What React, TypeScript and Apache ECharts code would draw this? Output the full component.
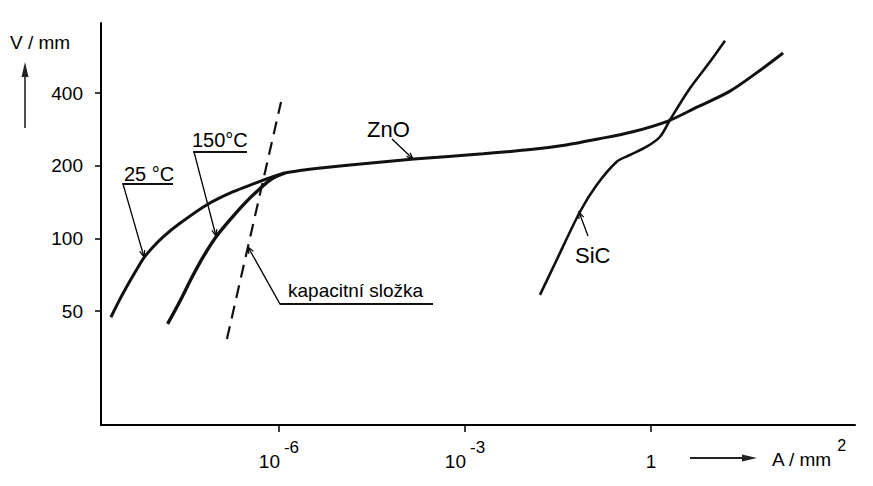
import React, { useEffect, useRef } from "react";
import * as echarts from "echarts";

// ---- data (A in A/mm², V in V/mm) ----
const zno25A = [1.95e-9, 2.65e-9, 3.63e-9, 4.94e-9, 6.72e-9, 9.4e-9, 1.36e-8, 2.53e-8, 6.8e-8, 1.83e-7, 4.36e-7, 8.0e-7, 1.25e-6, 2.18e-6, 3.95e-6, 1.4e-5, 1.5e-4, 1.95e-3, 0.0125, 0.0426, 0.14, 0.49, 1.88, 5.5, 18.8, 64, 135];
const zno25V = [47.1, 55.2, 64.1, 73.5, 83.5, 92.4, 101.6, 115.5, 137.6, 156.2, 170.2, 180.3, 186.7, 191.2, 194.9, 201.5, 213.4, 224.3, 234.1, 243.9, 258.3, 276.2, 306.7, 350, 408, 508, 587];
const zno150A = [1.6e-8, 2.53e-8, 3.96e-8, 6.17e-8, 9.9e-8, 1.83e-7, 3.01e-7, 4.94e-7, 7.6e-7, 1.25e-6];
const zno150V = [44.2, 54.9, 69.0, 84.8, 102.3, 123.8, 142.5, 160.7, 176.3, 186.7];
const sicA = [0.0162, 0.0301, 0.0716, 0.133, 0.28, 0.458, 0.853, 1.4, 2.02, 4.25, 8.95, 15.6];
const sicV = [58.3, 81.4, 129, 166.5, 208, 221.7, 240, 264, 309.7, 419, 540, 660];
const capA = [1.45e-7, 1.08e-6];
const capV = [38.3, 368];

const xTickExponents = [-6, -3, 0];
const yTickValues = [50, 100, 200, 400];
const xRange = [1.35e-9, 1950];
const yRange = [16.84, 782];

const FONT = '"Liberation Sans", Arial, Helvetica, sans-serif';

const lg = Math.log10;
const toPairs = (a: number[], v: number[]) => a.map((x, i) => [lg(x), lg(v[i])]);

function arrowHead(from: number[], to: number[], len = 7, spread = 0.38) {
  const ang = Math.atan2(to[1] - from[1], to[0] - from[0]);
  const p1 = [to[0] - len * Math.cos(ang - spread), to[1] - len * Math.sin(ang - spread)];
  const p2 = [to[0] - len * Math.cos(ang + spread), to[1] - len * Math.sin(ang + spread)];
  return {
    type: "polyline",
    shape: { points: [p1, to, p2] },
    style: { stroke: "#000", lineWidth: 1.2, fill: null },
  };
}

function leader(under: number[][], tip: number[]) {
  const start = under[0];
  return [
    {
      type: "polyline",
      shape: { points: [under[1], start, tip] },
      style: { stroke: "#000", lineWidth: 1.3, fill: null },
    },
    arrowHead(start, tip),
  ];
}

function label(text: string, x: number, y: number, size = 19) {
  return {
    type: "text",
    x,
    y,
    style: {
      text,
      fill: "#000",
      fontSize: size,
      fontFamily: FONT,
      align: "left",
      verticalAlign: "middle",
    },
  };
}

export default function App() {
  const ref = useRef<HTMLDivElement>(null);

  useEffect(() => {
    if (!ref.current) return;
    const chart = echarts.init(ref.current, undefined, { renderer: "svg" });

    const graphics: any[] = [
      // y axis title + arrow
      label("V / mm", 10, 42, 19),
      {
        type: "line",
        shape: { x1: 25, y1: 128, x2: 25, y2: 72 },
        style: { stroke: "#222", lineWidth: 1.6 },
      },
      { type: "polygon", shape: { points: [[25, 62], [21.5, 77], [28.5, 77]] }, style: { fill: "#222" } },
      // x axis title + arrow
      {
        type: "line",
        shape: { x1: 690, y1: 458, x2: 745, y2: 458 },
        style: { stroke: "#222", lineWidth: 2 },
      },
      { type: "polygon", shape: { points: [[757, 458], [742, 454.5], [742, 461.5]] }, style: { fill: "#222" } },
      {
        type: "text",
        x: 772,
        y: 443,
        style: {
          text: "{a|A / mm}{s|2}",
          fill: "#000",
          align: "left",
          verticalAlign: "top",
          rich: {
            a: { fontSize: 19, fontFamily: FONT, lineHeight: 20, padding: [12, 0, 0, 0], fill: "#000" },
            s: { fontSize: 16, fontFamily: FONT, lineHeight: 16, padding: [0, 0, 16, 5], fill: "#000" },
          },
        },
      },
      // annotations
      label("25 °C", 124, 174, 20),
      { type: "line", shape: { x1: 122.5, y1: 184, x2: 173, y2: 184 }, style: { stroke: "#000", lineWidth: 1.5 } },
      ...leader([[123, 184], [173, 184]], [144, 257]),
      label("150°C", 192, 140, 20),
      { type: "line", shape: { x1: 193, y1: 152, x2: 247, y2: 152 }, style: { stroke: "#000", lineWidth: 1.5 } },
      ...leader([[194, 152], [247, 152]], [216, 236]),
      label("kapacitní složka", 288, 290, 19),
      { type: "line", shape: { x1: 280, y1: 304, x2: 433, y2: 304 }, style: { stroke: "#000", lineWidth: 1.5 } },
      ...leader([[280, 304], [433, 304]], [248, 247]),
      label("ZnO", 367, 129, 22),
      ...leader([[392, 139], [392, 139]], [413, 159]),
      label("SiC", 575, 255, 22),
      ...leader([[588, 236], [588, 236]], [579, 212]),
    ];

    chart.setOption({
      animation: false,
      backgroundColor: "#fff",
      grid: { left: 101, top: 23, right: 18, bottom: 61, containLabel: false },
      xAxis: {
        type: "value",
        min: lg(xRange[0]),
        max: lg(xRange[1]),
        axisLine: { show: true, onZero: false, lineStyle: { color: "#000", width: 2 } },
        axisTick: {
          show: true,
          inside: false,
          length: 7,
          customValues: xTickExponents,
          lineStyle: { color: "#000", width: 1.5 },
        },
        axisLabel: {
          show: true,
          customValues: xTickExponents,
          margin: 20,
          color: "#000",
          formatter: (v: number) => (v === 0 ? "{b|1}" : `{b|10}{s|${v}}`),
          rich: {
            b: { fontSize: 19, fontFamily: FONT, lineHeight: 20, padding: [12, 0, 0, 0], color: "#000" },
            s: { fontSize: 17, fontFamily: FONT, lineHeight: 16, padding: [0, 0, 16, 4], color: "#000" },
          },
        },
        splitLine: { show: false },
      },
      yAxis: {
        type: "value",
        min: lg(yRange[0]),
        max: lg(yRange[1]),
        axisLine: { show: true, onZero: false, lineStyle: { color: "#000", width: 2 } },
        axisTick: {
          show: true,
          inside: false,
          length: 6,
          customValues: yTickValues.map(lg),
          lineStyle: { color: "#000", width: 1.5 },
        },
        axisLabel: {
          show: true,
          customValues: yTickValues.map(lg),
          margin: 18,
          color: "#000",
          fontSize: 19,
          fontFamily: FONT,
          formatter: (v: number) => String(Math.round(Math.pow(10, v))),
        },
        splitLine: { show: false },
      },
      series: [
        {
          name: "ZnO 25 °C",
          type: "line",
          data: toPairs(zno25A, zno25V),
          smooth: 0.3,
          showSymbol: false,
          lineStyle: { color: "#111", width: 3 },
        },
        {
          name: "ZnO 150°C",
          type: "line",
          data: toPairs(zno150A, zno150V),
          smooth: 0.3,
          showSymbol: false,
          lineStyle: { color: "#111", width: 3.4 },
        },
        {
          name: "SiC",
          type: "line",
          data: toPairs(sicA, sicV),
          smooth: 0.3,
          showSymbol: false,
          lineStyle: { color: "#111", width: 2.6 },
        },
        {
          name: "kapacitní složka",
          type: "line",
          data: toPairs(capA, capV),
          showSymbol: false,
          lineStyle: { color: "#111", width: 2.2, type: [13, 8] },
        },
      ],
      graphic: graphics,
    });

    return () => chart.dispose();
  }, []);

  return (
    <div
      ref={ref}
      style={{ position: "fixed", left: 0, top: 0, width: 873, height: 486, background: "#fff" }}
    />
  );
}
